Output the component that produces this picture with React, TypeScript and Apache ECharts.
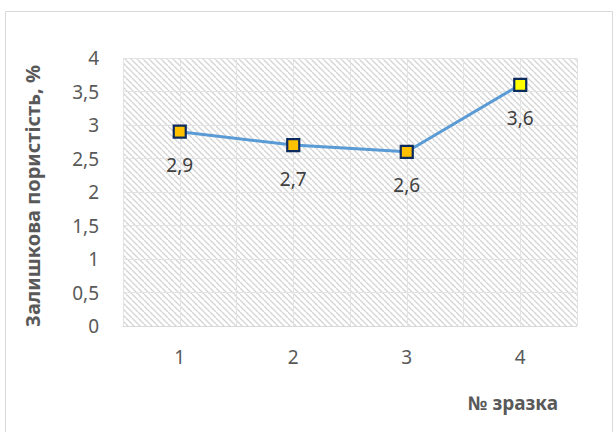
import React, { useEffect, useRef } from "react";
import * as echarts from "echarts";

// Sample numbers and residual porosity values (%)
const samples = [1, 2, 3, 4];
const porosity = [2.9, 2.7, 2.6, 3.6];
const markerColors = ["#ffc000", "#ffc000", "#ffc000", "#ffff00"];
const yTicks = [0, 0.5, 1, 1.5, 2, 2.5, 3, 3.5, 4];

const FONT = "'Noto Sans', 'DejaVu Sans', sans-serif";

function makeHatch(): HTMLCanvasElement {
  const size = 6;
  const c = document.createElement("canvas");
  c.width = size;
  c.height = size;
  const ctx = c.getContext("2d")!;
  ctx.fillStyle = "#ffffff";
  ctx.fillRect(0, 0, size, size);
  ctx.strokeStyle = "#d4d4d4";
  ctx.lineWidth = 1.3;
  // "\" direction diagonals, tiled seamlessly
  for (const off of [-size, 0, size]) {
    ctx.beginPath();
    ctx.moveTo(off, 0);
    ctx.lineTo(off + size, size);
    ctx.stroke();
  }
  return c;
}

const fmt = (v: number) => String(v).replace(".", ",");

export default function App() {
  const ref = useRef<HTMLDivElement>(null);

  useEffect(() => {
    if (!ref.current) return;
    const chart = echarts.init(ref.current, null, { renderer: "svg" });
    const hatch = makeHatch();
    chart.setOption({
      animation: false,
      backgroundColor: "#ffffff",
      graphic: [
        {
          type: "rect",
          shape: { x: 5.5, y: 11.5, width: 607, height: 440 },
          style: { fill: "none", stroke: "#d9d9d9", lineWidth: 1 },
          z: -1,
        },
        {
          type: "text",
          x: 32,
          y: 196,
          rotation: Math.PI / 2,
          style: {
            text: "Залишкова пористість, %",
            font: `bold 20px ${FONT}`,
            fill: "#595959",
            align: "center",
            verticalAlign: "middle",
          },
        },
      ],
      grid: {
        left: 123,
        right: 37,
        top: 58,
        bottom: 106,
        show: true,
        backgroundColor: { image: hatch, repeat: "repeat" },
        borderWidth: 0,
      },
      xAxis: {
        type: "value",
        min: 0.5,
        max: 4.5,
        interval: 0.5,
        name: "№ зразка",
        nameLocation: "end",
        nameGap: 0,
        nameTextStyle: {
          fontFamily: FONT,
          fontWeight: "bold",
          fontSize: 19,
          color: "#595959",
          align: "right",
          verticalAlign: "top",
          padding: [67, 19, 0, 0],
        },
        axisLine: { show: true, lineStyle: { color: "#d9d9d9", width: 1 } },
        axisTick: { show: false },
        splitLine: { show: true, lineStyle: { color: "#e3e3e3", width: 1 } },
        axisLabel: {
          fontFamily: FONT,
          fontSize: 19,
          color: "#595959",
          margin: 21,
          formatter: (v: number) => (samples.includes(v) ? String(v) : ""),
        },
      },
      yAxis: {
        type: "value",
        min: yTicks[0],
        max: yTicks[yTicks.length - 1],
        interval: 0.5,
        axisLine: { show: false },
        axisTick: { show: false },
        splitLine: { show: true, lineStyle: { color: "#e3e3e3", width: 1 } },
        axisLabel: {
          fontFamily: FONT,
          fontSize: 19,
          color: "#595959",
          margin: 24,
          formatter: (v: number) => fmt(v),
        },
      },
      series: [
        {
          type: "line",
          data: samples.map((s, i) => ({
            value: [s, porosity[i]],
            itemStyle: { color: markerColors[i] },
          })),
          lineStyle: { color: "#5b9bd5", width: 3 },
          symbol: "rect",
          symbolSize: 12,
          itemStyle: { borderColor: "#0b2a5e", borderWidth: 2.2 },
          label: {
            show: true,
            position: "bottom",
            distance: 17,
            fontFamily: FONT,
            fontSize: 19,
            color: "#404040",
            formatter: (p: any) => fmt(p.value[1]),
          },
          z: 5,
        },
      ],
    });
    return () => chart.dispose();
  }, []);

  return (
    <div
      ref={ref}
      style={{ position: "fixed", left: 0, top: 0, width: 614, height: 432 }}
    />
  );
}
